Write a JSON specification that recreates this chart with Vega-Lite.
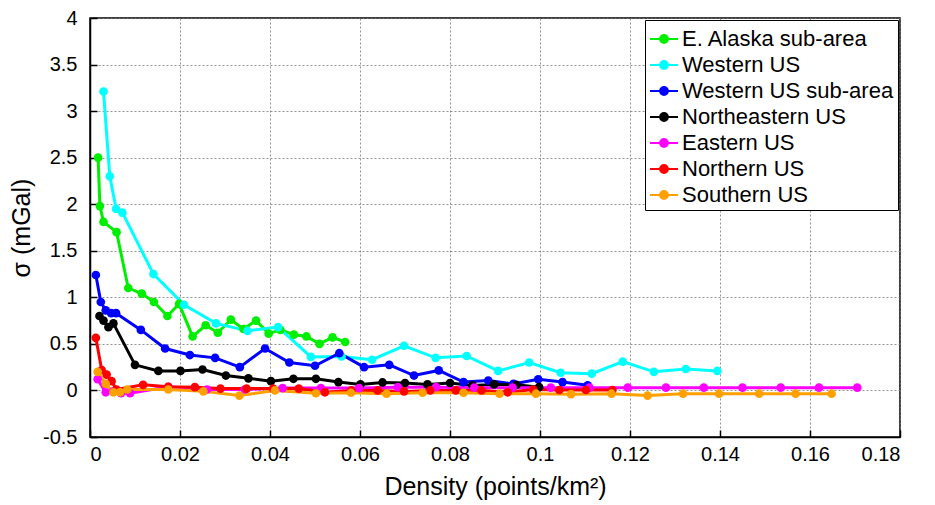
{
  "$schema": "https://vega.github.io/schema/vega-lite/v6.json",
  "width": 810,
  "height": 419,
  "autosize": {"type": "none"},
  "padding": {"left": 90, "top": 18, "right": 35, "bottom": 68},
  "background": "white",
  "config": {
    "font": "Liberation Sans",
    "view": {"stroke": "black", "strokeWidth": 1.5},
    "axis": {
      "labelFont": "Liberation Sans",
      "titleFont": "Liberation Sans",
      "labelFontSize": 20,
      "titleFontSize": 25,
      "titleFontWeight": "normal",
      "labelColor": "black",
      "titleColor": "black",
      "domainColor": "black",
      "domainWidth": 1.5,
      "tickColor": "black",
      "tickWidth": 1.5,
      "tickSize": -7,
      "gridColor": "#777777",
      "gridDash": [2, 2],
      "gridWidth": 1,
      "gridOpacity": 0.8
    },
    "legend": {
      "labelFont": "Liberation Sans",
      "labelFontSize": 22,
      "labelColor": "black",
      "labelLimit": 0
    }
  },
  "data": {
    "values": [
      {"s": "E. Alaska sub-area", "x": 0.0018, "y": 2.5},
      {"s": "E. Alaska sub-area", "x": 0.0022, "y": 1.98},
      {"s": "E. Alaska sub-area", "x": 0.003, "y": 1.81},
      {"s": "E. Alaska sub-area", "x": 0.0059, "y": 1.7},
      {"s": "E. Alaska sub-area", "x": 0.0085, "y": 1.1},
      {"s": "E. Alaska sub-area", "x": 0.0115, "y": 1.04},
      {"s": "E. Alaska sub-area", "x": 0.0142, "y": 0.95},
      {"s": "E. Alaska sub-area", "x": 0.0172, "y": 0.8},
      {"s": "E. Alaska sub-area", "x": 0.0198, "y": 0.93},
      {"s": "E. Alaska sub-area", "x": 0.0228, "y": 0.58},
      {"s": "E. Alaska sub-area", "x": 0.0257, "y": 0.7},
      {"s": "E. Alaska sub-area", "x": 0.0284, "y": 0.62},
      {"s": "E. Alaska sub-area", "x": 0.0313, "y": 0.76},
      {"s": "E. Alaska sub-area", "x": 0.0341, "y": 0.66},
      {"s": "E. Alaska sub-area", "x": 0.0369, "y": 0.75},
      {"s": "E. Alaska sub-area", "x": 0.0397, "y": 0.61},
      {"s": "E. Alaska sub-area", "x": 0.0423, "y": 0.65},
      {"s": "E. Alaska sub-area", "x": 0.0453, "y": 0.6},
      {"s": "E. Alaska sub-area", "x": 0.0481, "y": 0.58},
      {"s": "E. Alaska sub-area", "x": 0.051, "y": 0.5},
      {"s": "E. Alaska sub-area", "x": 0.0539, "y": 0.57},
      {"s": "E. Alaska sub-area", "x": 0.0567, "y": 0.52},

      {"s": "Western US", "x": 0.003, "y": 3.21},
      {"s": "Western US", "x": 0.0044, "y": 2.3},
      {"s": "Western US", "x": 0.0058, "y": 1.95},
      {"s": "Western US", "x": 0.0072, "y": 1.91},
      {"s": "Western US", "x": 0.0141, "y": 1.25},
      {"s": "Western US", "x": 0.0209, "y": 0.92},
      {"s": "Western US", "x": 0.028, "y": 0.72},
      {"s": "Western US", "x": 0.035, "y": 0.64},
      {"s": "Western US", "x": 0.0418, "y": 0.68},
      {"s": "Western US", "x": 0.0491, "y": 0.36},
      {"s": "Western US", "x": 0.0559, "y": 0.365},
      {"s": "Western US", "x": 0.0627, "y": 0.33},
      {"s": "Western US", "x": 0.0698, "y": 0.48},
      {"s": "Western US", "x": 0.0768, "y": 0.35},
      {"s": "Western US", "x": 0.0837, "y": 0.37},
      {"s": "Western US", "x": 0.0907, "y": 0.21},
      {"s": "Western US", "x": 0.0976, "y": 0.3},
      {"s": "Western US", "x": 0.1046, "y": 0.19},
      {"s": "Western US", "x": 0.1115, "y": 0.18},
      {"s": "Western US", "x": 0.1184, "y": 0.31},
      {"s": "Western US", "x": 0.1253, "y": 0.2},
      {"s": "Western US", "x": 0.1324, "y": 0.23},
      {"s": "Western US", "x": 0.1394, "y": 0.21},

      {"s": "Western US sub-area", "x": 0.0013, "y": 1.24},
      {"s": "Western US sub-area", "x": 0.0024, "y": 0.95},
      {"s": "Western US sub-area", "x": 0.0035, "y": 0.86},
      {"s": "Western US sub-area", "x": 0.0047, "y": 0.83},
      {"s": "Western US sub-area", "x": 0.0058, "y": 0.83},
      {"s": "Western US sub-area", "x": 0.0113, "y": 0.65},
      {"s": "Western US sub-area", "x": 0.0167, "y": 0.45},
      {"s": "Western US sub-area", "x": 0.0222, "y": 0.38},
      {"s": "Western US sub-area", "x": 0.0278, "y": 0.35},
      {"s": "Western US sub-area", "x": 0.0333, "y": 0.25},
      {"s": "Western US sub-area", "x": 0.0389, "y": 0.45},
      {"s": "Western US sub-area", "x": 0.0443, "y": 0.3},
      {"s": "Western US sub-area", "x": 0.05, "y": 0.265},
      {"s": "Western US sub-area", "x": 0.0554, "y": 0.4},
      {"s": "Western US sub-area", "x": 0.0609, "y": 0.25},
      {"s": "Western US sub-area", "x": 0.0665, "y": 0.275},
      {"s": "Western US sub-area", "x": 0.072, "y": 0.16},
      {"s": "Western US sub-area", "x": 0.0775, "y": 0.215},
      {"s": "Western US sub-area", "x": 0.083, "y": 0.09},
      {"s": "Western US sub-area", "x": 0.0885, "y": 0.107},
      {"s": "Western US sub-area", "x": 0.0941, "y": 0.07},
      {"s": "Western US sub-area", "x": 0.0996, "y": 0.12},
      {"s": "Western US sub-area", "x": 0.105, "y": 0.09},
      {"s": "Western US sub-area", "x": 0.1106, "y": 0.055},

      {"s": "Northeastern US", "x": 0.0021, "y": 0.8},
      {"s": "Northeastern US", "x": 0.003, "y": 0.75},
      {"s": "Northeastern US", "x": 0.0041, "y": 0.68},
      {"s": "Northeastern US", "x": 0.0052, "y": 0.72},
      {"s": "Northeastern US", "x": 0.01, "y": 0.275},
      {"s": "Northeastern US", "x": 0.0152, "y": 0.21},
      {"s": "Northeastern US", "x": 0.0201, "y": 0.21},
      {"s": "Northeastern US", "x": 0.025, "y": 0.225},
      {"s": "Northeastern US", "x": 0.0302, "y": 0.16},
      {"s": "Northeastern US", "x": 0.0352, "y": 0.13},
      {"s": "Northeastern US", "x": 0.0402, "y": 0.1},
      {"s": "Northeastern US", "x": 0.0452, "y": 0.125},
      {"s": "Northeastern US", "x": 0.0502, "y": 0.125},
      {"s": "Northeastern US", "x": 0.0552, "y": 0.09},
      {"s": "Northeastern US", "x": 0.0601, "y": 0.065},
      {"s": "Northeastern US", "x": 0.065, "y": 0.086},
      {"s": "Northeastern US", "x": 0.07, "y": 0.08},
      {"s": "Northeastern US", "x": 0.075, "y": 0.065},
      {"s": "Northeastern US", "x": 0.08, "y": 0.08},
      {"s": "Northeastern US", "x": 0.085, "y": 0.054},
      {"s": "Northeastern US", "x": 0.0898, "y": 0.065},
      {"s": "Northeastern US", "x": 0.0948, "y": 0.06},
      {"s": "Northeastern US", "x": 0.0998, "y": 0.035},

      {"s": "Eastern US", "x": 0.0017, "y": 0.12},
      {"s": "Eastern US", "x": 0.0035, "y": -0.02},
      {"s": "Eastern US", "x": 0.0052, "y": -0.01},
      {"s": "Eastern US", "x": 0.0069, "y": -0.03},
      {"s": "Eastern US", "x": 0.0089, "y": -0.03},
      {"s": "Eastern US", "x": 0.0174, "y": 0.04},
      {"s": "Eastern US", "x": 0.026, "y": 0.01},
      {"s": "Eastern US", "x": 0.0344, "y": 0.01},
      {"s": "Eastern US", "x": 0.0428, "y": 0.025},
      {"s": "Eastern US", "x": 0.0513, "y": 0.025},
      {"s": "Eastern US", "x": 0.0598, "y": 0.025},
      {"s": "Eastern US", "x": 0.0684, "y": 0.035},
      {"s": "Eastern US", "x": 0.0769, "y": 0.035},
      {"s": "Eastern US", "x": 0.0854, "y": 0.03},
      {"s": "Eastern US", "x": 0.0939, "y": 0.03},
      {"s": "Eastern US", "x": 0.1024, "y": 0.03},
      {"s": "Eastern US", "x": 0.111, "y": 0.03},
      {"s": "Eastern US", "x": 0.1195, "y": 0.03},
      {"s": "Eastern US", "x": 0.128, "y": 0.03},
      {"s": "Eastern US", "x": 0.1364, "y": 0.03},
      {"s": "Eastern US", "x": 0.145, "y": 0.03},
      {"s": "Eastern US", "x": 0.1535, "y": 0.03},
      {"s": "Eastern US", "x": 0.162, "y": 0.03},
      {"s": "Eastern US", "x": 0.1705, "y": 0.03},

      {"s": "Northern US", "x": 0.0013, "y": 0.565},
      {"s": "Northern US", "x": 0.0026, "y": 0.22},
      {"s": "Northern US", "x": 0.0037, "y": 0.17},
      {"s": "Northern US", "x": 0.0048, "y": 0.1},
      {"s": "Northern US", "x": 0.0059, "y": 0.01},
      {"s": "Northern US", "x": 0.0118, "y": 0.06},
      {"s": "Northern US", "x": 0.0174, "y": 0.04},
      {"s": "Northern US", "x": 0.0233, "y": 0.035},
      {"s": "Northern US", "x": 0.029, "y": 0.02},
      {"s": "Northern US", "x": 0.0348, "y": 0.02},
      {"s": "Northern US", "x": 0.0407, "y": 0.02},
      {"s": "Northern US", "x": 0.0464, "y": 0.02},
      {"s": "Northern US", "x": 0.0522, "y": -0.02},
      {"s": "Northern US", "x": 0.0581, "y": 0},
      {"s": "Northern US", "x": 0.0639, "y": 0},
      {"s": "Northern US", "x": 0.0698, "y": -0.01},
      {"s": "Northern US", "x": 0.0756, "y": 0},
      {"s": "Northern US", "x": 0.0813, "y": 0},
      {"s": "Northern US", "x": 0.087, "y": 0},
      {"s": "Northern US", "x": 0.0928, "y": -0.02},
      {"s": "Northern US", "x": 0.0985, "y": 0.01},
      {"s": "Northern US", "x": 0.1043, "y": 0.005},
      {"s": "Northern US", "x": 0.1102, "y": 0.005},
      {"s": "Northern US", "x": 0.1161, "y": 0.005},

      {"s": "Southern US", "x": 0.0017, "y": 0.2},
      {"s": "Southern US", "x": 0.0035, "y": 0.07},
      {"s": "Southern US", "x": 0.0052, "y": -0.02},
      {"s": "Southern US", "x": 0.0067, "y": -0.02},
      {"s": "Southern US", "x": 0.0083, "y": 0.01},
      {"s": "Southern US", "x": 0.0174, "y": 0.01},
      {"s": "Southern US", "x": 0.0252, "y": -0.01},
      {"s": "Southern US", "x": 0.0332, "y": -0.055},
      {"s": "Southern US", "x": 0.0411, "y": 0},
      {"s": "Southern US", "x": 0.0502, "y": -0.03},
      {"s": "Southern US", "x": 0.058, "y": -0.025},
      {"s": "Southern US", "x": 0.0659, "y": -0.035},
      {"s": "Southern US", "x": 0.0739, "y": -0.025},
      {"s": "Southern US", "x": 0.083, "y": -0.025},
      {"s": "Southern US", "x": 0.091, "y": -0.035},
      {"s": "Southern US", "x": 0.0991, "y": -0.035},
      {"s": "Southern US", "x": 0.1069, "y": -0.04},
      {"s": "Southern US", "x": 0.1159, "y": -0.035},
      {"s": "Southern US", "x": 0.1239, "y": -0.055},
      {"s": "Southern US", "x": 0.1318, "y": -0.035},
      {"s": "Southern US", "x": 0.1398, "y": -0.035},
      {"s": "Southern US", "x": 0.1487, "y": -0.035},
      {"s": "Southern US", "x": 0.1568, "y": -0.035},
      {"s": "Southern US", "x": 0.1648, "y": -0.035}
    ]
  },
  "mark": {"type": "line", "strokeWidth": 3, "point": {"filled": true, "size": 75, "opacity": 1}},
  "encoding": {
    "x": {
      "field": "x", "type": "quantitative",
      "scale": {"domain": [0, 0.18], "nice": false, "zero": false},
      "axis": {
        "values": [0, 0.02, 0.04, 0.06, 0.08, 0.1, 0.12, 0.14, 0.16, 0.18],
        "format": "~g",
        "title": "Density (points/km²)",
        "labelPadding": 14,
        "titlePadding": 10
      }
    },
    "y": {
      "field": "y", "type": "quantitative",
      "scale": {"domain": [-0.5, 4], "nice": false, "zero": false},
      "axis": {
        "values": [-0.5, 0, 0.5, 1, 1.5, 2, 2.5, 3, 3.5, 4],
        "format": "~g",
        "labelExpr": "replace(datum.label, '−', '-')",
        "title": "σ (mGal)",
        "labelPadding": 20,
        "titlePadding": 8
      }
    },
    "color": {
      "field": "s", "type": "nominal",
      "scale": {
        "domain": ["E. Alaska sub-area", "Western US", "Western US sub-area", "Northeastern US", "Eastern US", "Northern US", "Southern US"],
        "range": ["#00ee00", "#00ffff", "#0000ff", "#000000", "#ff00ff", "#ff0000", "#ffa000"]
      },
      "legend": {
        "title": null,
        "orient": "top-right",
        "offset": 2,
        "fillColor": "white",
        "strokeColor": "black",
        "padding": 4,
        "rowPadding": 0,
        "symbolType": "M-1,0L1,0M-0.28,0A0.28,0.28 0 1,0 0.28,0A0.28,0.28 0 1,0 -0.28,0Z",
        "symbolSize": 784,
        "symbolStrokeWidth": 2,
        "labelOffset": 3,
        "encode": {"symbols": {"update": {"fill": {"scale": "color", "field": "value"}, "stroke": {"scale": "color", "field": "value"}}}}
      }
    }
  }
}
